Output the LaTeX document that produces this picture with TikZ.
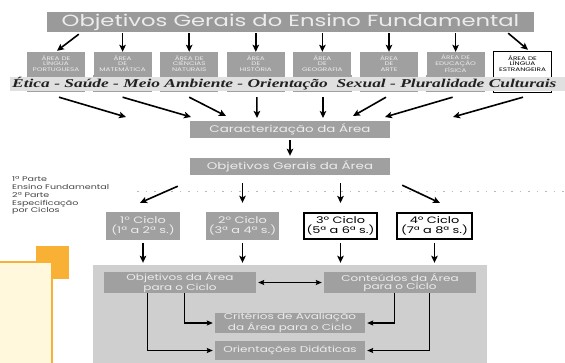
\documentclass[tikz,border=0pt]{standalone}
\usepackage{fontspec}
\usetikzlibrary{arrows.meta,calc}
\newfontfamily\gothic[FakeStretch=1.4]{Poppins}
\newfontfamily\hand[FakeStretch=1.45]{Liberation Serif}
\definecolor{boxg}{HTML}{A0A0A0}
\definecolor{titleg}{HTML}{9A9A9A}
\definecolor{txtl}{HTML}{ECECEC}
\definecolor{bandg}{HTML}{E0E0E0}
\definecolor{bandtxt}{HTML}{222222}
\definecolor{panelg}{HTML}{CFCFCF}
\definecolor{legtxt}{HTML}{444444}
\definecolor{orange1}{HTML}{F8B135}
\definecolor{cream}{HTML}{FFF8DD}
\tikzset{
  gbox/.style={fill=boxg, text=txtl, inner sep=0pt, align=center},
  areabox/.style={gbox, minimum width=58pt, minimum height=23pt, font=\gothic\fontsize{5.2}{5.5}\selectfont},
  ciclo/.style={gbox, minimum height=28pt, font=\gothic\fontsize{9.2}{10}\selectfont},
  ciclow/.style={ciclo, fill=white, text=black, draw=black, line width=1.6pt},
  inner/.style={gbox, font=\gothic\fontsize{8.6}{8.5}\selectfont},
  arr/.style={-{Stealth[length=7pt,width=6.5pt,inset=1.5pt]}, line width=1.6pt},
  parr/.style={-{Stealth[length=6pt,width=5pt,inset=1pt]}, line width=1.2pt},
}
\begin{document}
\begin{tikzpicture}[x=1pt,y=-1pt]
\useasboundingbox (0,0) rectangle (565,362);
\clip (0,0) rectangle (565,362);
% title
\node[gbox, fill=titleg, minimum width=487pt, minimum height=20pt, font=\gothic\fontsize{16.2}{16.2}\selectfont] (title) at (290.5,22) {Objetivos Gerais do Ensino Fundamental};
% area boxes
\node[areabox] (a1) at (56,63.5) {ÁREA DE\\LÍNGUA\\PORTUGUESA};
\node[areabox] (a2) at (122.6,63.5) {ÁREA\\DE\\MATEMÁTICA};
\node[areabox] (a3) at (189.2,63.5) {ÁREA DE\\CIÊNCIAS\\NATURAIS};
\node[areabox] (a4) at (255.8,63.5) {ÁREA\\DE\\HISTÓRIA};
\node[areabox] (a5) at (322.4,63.5) {ÁREA\\DE\\GEOGRAFIA};
\node[areabox] (a6) at (389,63.5) {ÁREA\\DE\\ARTE};
\node[areabox] (a7) at (455.6,63.5) {ÁREA DE\\EDUCAÇÃO\\FÍSICA};
\node[areabox, fill=white, text=black] (a8) at (522.5,63.5) {ÁREA DE\\LÍNGUA\\ESTRANGEIRA};
\foreach \n in {a1,a2,a3,a4,a5,a6,a7}
  \fill[boxg] (\n.south west) rectangle ($(\n.south east)+(0,17)$);
\draw[line width=1.3pt] (a8.north west) rectangle ($(a8.south east)+(0,17)$);
% band
\fill[bandg] (10,77) rectangle (570,90.5);
\node[anchor=west, inner sep=0pt, text=bandtxt, font=\hand\bfseries\itshape\fontsize{12}{12}\selectfont] (band) at (12,84) {Ética - Saúde - Meio Ambiente - Orientação\ \ Sexual - Pluralidade Culturais};
% arrows title -> areas
\draw[arr] ($(title.south west)+(32,2)$) -- ($(a1.north)+(1,-1)$);
\foreach \n in {a2,a3,a4,a5,a6,a7}
  \draw[arr] ($(title.south -| \n.north)+(0,1)$) -- (\n.north);
\draw[arr] ($(title.south east)+(-26,1)$) -- ($(a8.north)+(5.5,-2)$);
% caracterizacao / objetivos
\node[gbox, minimum width=200pt, minimum height=17pt, font=\gothic\fontsize{9.6}{9.6}\selectfont] (car) at (290,129.5) {Caracterização da Área};
\node[gbox, minimum width=200pt, minimum height=17pt, font=\gothic\fontsize{9.6}{9.6}\selectfont] (obj) at (290,166.5) {Objetivos Gerais da Área};
\coordinate (e1) at (126,117);
\coordinate (e2) at (191,117);
\coordinate (e3) at (226,116);
\coordinate (e4) at (257,118);
\coordinate (e5) at (323,118);
\coordinate (e6) at (353,116);
\coordinate (e7) at (385,117);
\coordinate (e8) at (453,117);
\draw[arr] ($(a1.south)+(3,22)$) -- (e1);
\draw[arr] ($(a2.south)+(0,22)$) -- (e2);
\draw[arr] ($(a3.south)+(0,22)$) -- (e3);
\draw[arr] ($(a4.south)+(1,22)$) -- (e4);
\draw[arr] ($(a5.south)+(0.6,22)$) -- (e5);
\draw[arr] ($(a6.south)+(-3,22)$) -- (e6);
\draw[arr] ($(a7.south)+(-3,22)$) -- (e7);
\draw[arr] ($(a8.south)+(0.5,22)$) -- (e8);
\draw[arr, shorten <=2pt, shorten >=2pt] (car.south) -- (obj.north);
% legend
\node[anchor=north west, align=left, text=legtxt, inner sep=0pt, font=\gothic\fontsize{6.8}{7.8}\selectfont] (leg) at (12,176.5) {1ª Parte\\Ensino Fundamental\\2ª Parte\\Especificação\\por Ciclos};
% dotted line
\draw[gray!55, line width=1pt, dash pattern=on 1.5pt off 7pt] (137,191) -- (565,191);
% ciclos
\node[ciclo, minimum width=74pt] (c1) at (143,226) {1º Ciclo\\(1ª a 2ª s.)};
\node[ciclo, minimum width=73pt] (c2) at (242.5,226) {2º Ciclo\\(3ª a 4ª s.)};
\node[ciclow, minimum width=73pt, minimum height=26.5pt] (c3) at (340.5,226) {3º Ciclo\\(5ª a 6ª s.)};
\node[ciclow, minimum width=75pt, minimum height=26.5pt] (c4) at (434.5,226) {4º Ciclo\\(7ª a 8ª s.)};
\draw[arr] ($(obj.south west)+(-12,11)$) -- ($(c1.north)+(-3,-9)$);
\draw[arr] ($(obj.south -| c2.north)+(0,8)$) -- ($(c2.north)+(0,-9)$);
\draw[arr] ($(obj.south -| c3.north)+(0,8)$) -- ($(c3.north)+(0,-9)$);
\draw[arr] ($(obj.south east)+(12,10)$) -- ($(c4.north)+(5.5,-9)$);
% panel
\node[fill=panelg, minimum width=394pt, minimum height=100pt, inner sep=0pt] (panel) at (290,315) {};
\foreach \n in {c1,c2,c3,c4}
  \draw[arr, shorten >=2pt] ($(\n.south)+(0,3)$) -- (\n.south |- panel.north);
\node[inner, minimum width=152pt, minimum height=21pt] (objA) at (180,282.5) {Objetivos da Área\\para o Ciclo};
\node[inner, minimum width=152pt, minimum height=21pt] (cont) at (400,282.5) {Conteúdos da Área\\para o Ciclo};
\node[inner, minimum width=150pt, minimum height=20pt] (crit) at (290,323) {Critérios de Avaliação\\da Área para o Ciclo};
\node[inner, minimum width=150pt, minimum height=19pt] (orie) at (290,350.5) {Orientações Didáticas};
\draw[parr, {Stealth[length=6pt,width=5pt,inset=1pt]}-{Stealth[length=6pt,width=5pt,inset=1pt]}, shorten <=2pt, shorten >=2pt] (objA.east) -- (cont.west);
\draw[parr, shorten >=2pt] ($(objA.south west)+(44,0)$) |- (orie.west);
\draw[parr, shorten >=2pt] ($(objA.south west)+(81,0)$) |- (crit.west);
\draw[parr, shorten >=2pt] ($(cont.south west)+(71,0)$) |- (crit.east);
\draw[parr, shorten >=2pt] ($(cont.south west)+(106,0)$) |- (orie.east);
% orange decoration
\fill[orange1] (36,246) rectangle (69,279);
\draw[orange1, line width=1.8pt, fill=cream] (-5,262) rectangle (52,370);
\end{tikzpicture}
\end{document}
